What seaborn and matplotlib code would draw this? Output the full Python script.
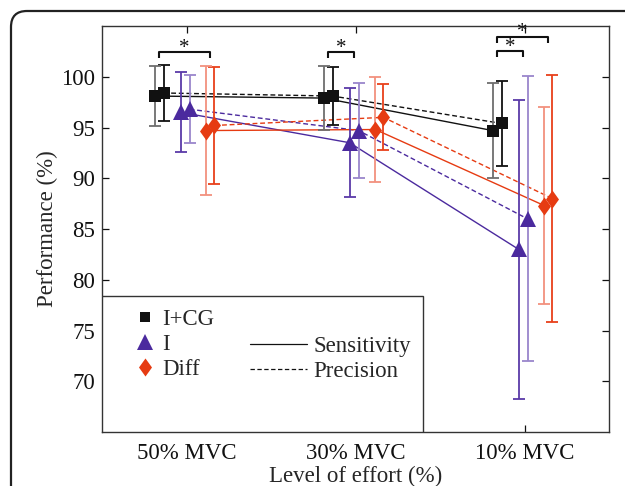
import numpy as np
import pandas as pd
import matplotlib
matplotlib.use("Agg")
import matplotlib.pyplot as plt
import seaborn as sns
from matplotlib.lines import Line2D
from matplotlib.patches import Rectangle, FancyBboxPatch
from matplotlib.transforms import IdentityTransform

# ---- data -------------------------------------------------------------
levels = ["50% MVC", "30% MVC", "10% MVC"]
groups = ["I+CG", "I", "Diff"]
metrics = ["Sensitivity", "Precision"]

icg_sens = [98.1, 97.9, 94.7]
icg_sens_err = [2.95, 3.15, 4.7]
icg_prec = [98.4, 98.1, 95.4]
icg_prec_err = [2.8, 2.9, 4.2]

i_sens = [96.5, 93.5, 83.0]
i_sens_err = [3.95, 5.35, 14.75]
i_prec = [96.8, 94.7, 86.0]
i_prec_err = [3.35, 4.7, 14.05]

diff_sens = [94.7, 94.8, 87.3]
diff_sens_err = [6.35, 5.2, 9.7]
diff_prec = [95.2, 96.0, 88.0]
diff_prec_err = [5.75, 3.25, 12.15]

# significance brackets: (level index, group a, group b, bracket height)
sig_pairs = [(0, "I+CG", "Diff", 102.4),
             (1, "I+CG", "I", 102.4),
             (2, "I+CG", "I", 102.5),
             (2, "I+CG", "Diff", 103.95)]

# ---- styling ----------------------------------------------------------
marker_color = {"I+CG": "#111111", "I": "#4b2a9e", "Diff": "#e63b12"}
err_color = {("I+CG", "Sensitivity"): "#6e6e6e", ("I+CG", "Precision"): "#111111",
             ("I", "Sensitivity"): "#5a3aa8", ("I", "Precision"): "#9a86cc",
             ("Diff", "Sensitivity"): "#f2917e", ("Diff", "Precision"): "#e8401a"}
diamond = [(0, 1), (0.72, 0), (0, -1), (-0.72, 0), (0, 1)]
marker_shape = {"I+CG": "s", "I": "^", "Diff": diamond}
marker_size = {"I+CG": 8, "I": 11, "Diff": 13}
offset = {("I+CG", "Sensitivity"): -0.189, ("I+CG", "Precision"): -0.136,
          ("I", "Sensitivity"): -0.035, ("I", "Precision"): 0.018,
          ("Diff", "Sensitivity"): 0.118, ("Diff", "Precision"): 0.165}

series = {("I+CG", "Sensitivity"): (icg_sens, icg_sens_err),
          ("I+CG", "Precision"): (icg_prec, icg_prec_err),
          ("I", "Sensitivity"): (i_sens, i_sens_err),
          ("I", "Precision"): (i_prec, i_prec_err),
          ("Diff", "Sensitivity"): (diff_sens, diff_sens_err),
          ("Diff", "Precision"): (diff_prec, diff_prec_err)}

rows = []
for (g, m), (vals, errs) in series.items():
    for k, (v, e) in enumerate(zip(vals, errs)):
        rows.append(dict(level=levels[k], group=g, metric=m,
                         x=k + 1 + offset[(g, m)], value=v, err=e))
df = pd.DataFrame(rows)

sns.set_theme(style="ticks")
plt.rcParams["font.family"] = ["Liberation Serif", "DejaVu Serif"]
FS = 16.5

fig = plt.figure(figsize=(6.25, 4.86), dpi=100)
ax = fig.add_axes([102 / 625, 1 - 432 / 486, 507 / 625, 406 / 486])

# connecting lines
sns.lineplot(data=df, x="x", y="value", hue="group", style="metric",
             hue_order=groups, style_order=metrics,
             palette=marker_color, dashes={"Sensitivity": "", "Precision": (3.5, 2)},
             linewidth=1.0, estimator=None, legend=False, ax=ax, zorder=2)

# error bars and markers
for (g, m), sub in df.groupby(["group", "metric"]):
    ax.errorbar(sub["x"], sub["value"], yerr=sub["err"], fmt="none",
                ecolor=err_color[(g, m)], elinewidth=1.3, capsize=4.5,
                capthick=1.3, zorder=3)
    ax.plot(sub["x"], sub["value"], linestyle="none",
            marker=marker_shape[g], markersize=marker_size[g],
            color=marker_color[g], markeredgewidth=0, zorder=4)

# significance brackets
pair_mid = {g: (offset[(g, "Sensitivity")] + offset[(g, "Precision")]) / 2 for g in groups}
for k, ga, gb, h in sig_pairs:
    xa = k + 1 + pair_mid[ga]
    xb = k + 1 + pair_mid[gb]
    ax.plot([xa, xa, xb, xb], [h - 0.6, h, h, h - 0.6], color="#111111",
            linewidth=1.5, solid_capstyle="butt", zorder=5)
    ax.text((xa + xb) / 2, h - 0.55, "*", ha="center", va="bottom",
            fontsize=15, color="#111111")

ax.set_xlim(0.5, 3.5)
ax.set_ylim(65, 105)
ax.set_xticks([1, 2, 3])
ax.set_xticklabels(levels)
ax.set_yticks(np.arange(70, 101, 5))
ax.tick_params(direction="in", length=5, width=0.9, top=True, right=True,
               labelsize=FS, colors="#111111", pad=5)
ax.tick_params(axis="x", pad=8)
for s in ax.spines.values():
    s.set_visible(True)
    s.set_linewidth(1.0)
    s.set_color("#333333")
ax.set_xlabel("Level of effort (%)", fontsize=FS, labelpad=1)
ax.set_ylabel("Performance (%)", fontsize=FS, labelpad=2.5)

# legend panel
ax.add_patch(Rectangle((0, 0), (423 - 102) / 507, (432 - 296) / 406,
                       transform=ax.transAxes, facecolor="white",
                       edgecolor="#333333", linewidth=1.0, zorder=6))
marker_handles = [Line2D([], [], linestyle="none", marker=marker_shape[g],
                         markersize={"I+CG": 7, "I": 11, "Diff": 13}[g],
                         color=marker_color[g], markeredgewidth=0) for g in groups]
leg1 = ax.legend(marker_handles, groups, loc="upper left",
                 bbox_to_anchor=(0.062, 0.303), frameon=False, fontsize=FS,
                 handlelength=1.0, handletextpad=0.24, labelspacing=0.17,
                 borderaxespad=0, borderpad=0)
leg1.set_zorder(7)
ax.add_artist(leg1)
line_handles = [Line2D([], [], color="#111111", linewidth=0.9, linestyle="-"),
                Line2D([], [], color="#111111", linewidth=0.9, linestyle=(0, (3.5, 2)))]
leg2 = ax.legend(line_handles, metrics, loc="upper left",
                 bbox_to_anchor=(0.292, 0.236), frameon=False, fontsize=FS,
                 handlelength=2.48, handletextpad=0.3, labelspacing=0.17,
                 borderaxespad=0, borderpad=0)
leg2.set_zorder(7)

# rounded outer frame
frame = FancyBboxPatch((11, -60), 700, 486 - 11 + 60,
                       boxstyle="round,pad=0,rounding_size=16",
                       transform=IdentityTransform(), facecolor="none",
                       edgecolor="#222222", linewidth=1.6)
fig.patches.append(frame)

fig.savefig("out.png", dpi=100)
